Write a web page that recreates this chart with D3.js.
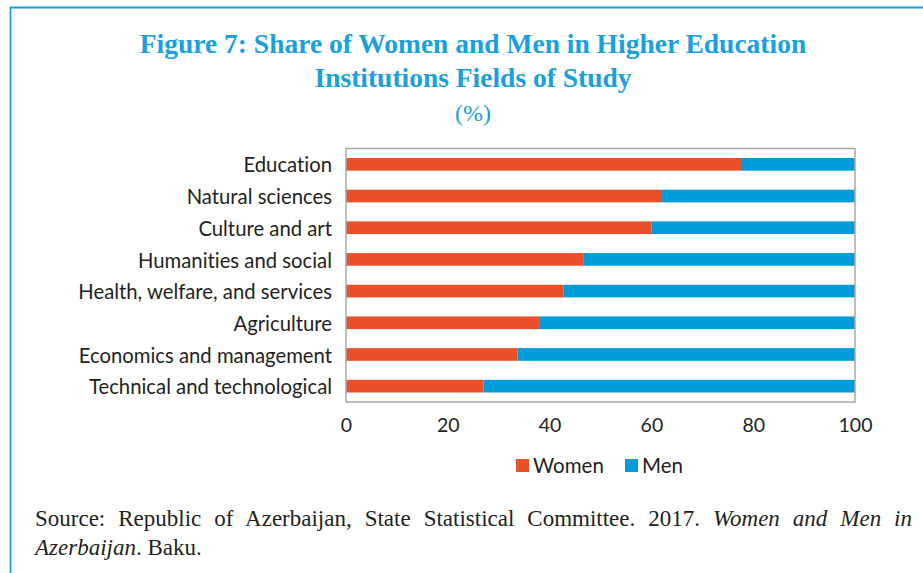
<!DOCTYPE html>
<html>
<head>
<meta charset="utf-8">
<script src="https://cdn.jsdelivr.net/npm/d3@7"></script>
<style>
  body { margin: 0; background: #fff; }
  svg { display: block; }
  text { font-variant-ligatures: none; font-feature-settings: "liga" 0, "clig" 0; }
</style>
</head>
<body>
<svg id="chart" width="923" height="573"></svg>
<script>
// datos del gráfico
var categories = [
  "Education",
  "Natural sciences",
  "Culture and art",
  "Humanities and social",
  "Health, welfare, and services",
  "Agriculture",
  "Economics and management",
  "Technical and technological"
];
var women = [77.6, 62.1, 60.0, 46.6, 42.7, 38.1, 33.7, 27.0];
var men = women.map(function(w) { return 100 - w; });
var xTicks = [0, 20, 40, 60, 80, 100];
var seriesNames = ["Women", "Men"];
var seriesColors = ["#e9502b", "#009bd9"];

var svg = d3.select("#chart");
var blue = "#1aa0dd";
var sansFont = "Lato, 'Open Sans', sans-serif";
var serifFont = "'Liberation Serif', 'DejaVu Serif', serif";

// marco
svg.append("path")
  .attr("d", "M10.5,573 V7.5 H923")
  .attr("fill", "none")
  .attr("stroke", blue)
  .attr("stroke-width", 1.8);

// título
var title = svg.append("g")
  .attr("font-family", serifFont)
  .attr("fill", blue)
  .attr("text-anchor", "middle");
title.append("text").attr("x", 473).attr("y", 53)
  .attr("font-size", 27.5).attr("font-weight", "bold")
  .text("Figure 7: Share of Women and Men in Higher Education");
title.append("text").attr("x", 473).attr("y", 87)
  .attr("font-size", 27.5).attr("font-weight", "bold")
  .text("Institutions Fields of Study");
title.append("text").attr("x", 473).attr("y", 121)
  .attr("font-size", 24)
  .text("(%)");

// escalas
var x = d3.scaleLinear().domain([0, 100]).range([346, 855]);
var y = d3.scaleBand().domain(categories).range([148.5, 402]).paddingInner(0.6).paddingOuter(0.3);

// barras apiladas
var rows = categories.map(function(c, i) { return { cat: c, vals: [women[i], men[i]] }; });
var stack = d3.stack().keys([0, 1]).value(function(d, k) { return d.vals[k]; });
var layers = stack(rows);

svg.selectAll(".layer")
  .data(layers)
  .enter().append("g")
  .attr("class", "layer")
  .attr("fill", function(d, i) { return seriesColors[i]; })
  .selectAll("rect")
  .data(function(d) { return d; })
  .enter().append("rect")
  .attr("x", function(d) { return x(d[0]); })
  .attr("y", function(d) { return y(d.data.cat); })
  .attr("width", function(d) { return x(d[1]) - x(d[0]); })
  .attr("height", y.bandwidth());

// caja del área de trazado
svg.append("rect")
  .attr("x", x(0)).attr("y", 148.5)
  .attr("width", x(100) - x(0)).attr("height", 402 - 148.5)
  .attr("fill", "none")
  .attr("stroke", "#a9a9a9")
  .attr("stroke-width", 1.5);

// etiquetas de categorías
svg.append("g")
  .selectAll("text")
  .data(categories)
  .enter().append("text")
  .attr("x", 332)
  .attr("y", function(d) { return y(d) + y.bandwidth() / 2 + 1; })
  .attr("dy", "0.35em")
  .attr("text-anchor", "end")
  .attr("font-family", sansFont)
  .attr("font-size", 20.3)
  .attr("fill", "#231f20")
  .text(function(d) { return d; });

// eje x
var xAxis = d3.axisBottom(x).tickValues(xTicks).tickSize(0).tickPadding(0);
var gx = svg.append("g").attr("transform", "translate(0,418)").call(xAxis);
gx.select(".domain").remove();
gx.selectAll("text")
  .attr("font-family", sansFont)
  .attr("font-size", 19.5)
  .attr("fill", "#231f20")
  .attr("dy", "0.71em");

// leyenda
var legendX = [516, 625];
var legend = svg.append("g").selectAll("g")
  .data(seriesNames)
  .enter().append("g")
  .attr("transform", function(d, i) { return "translate(" + legendX[i] + ",459)"; });
legend.append("rect")
  .attr("width", 13).attr("height", 13)
  .attr("fill", function(d, i) { return seriesColors[i]; });
legend.append("text")
  .attr("x", 17).attr("y", 13.5)
  .attr("font-family", sansFont)
  .attr("font-size", 20.5)
  .attr("fill", "#231f20")
  .text(function(d) { return d; });

// fuente
var src = svg.append("g")
  .attr("font-family", serifFont)
  .attr("font-size", 19)
  .attr("fill", "#231f20");
var line1 = src.append("text").attr("x", 35).attr("y", 526);
line1.append("tspan").text("Source: Republic of Azerbaijan, State Statistical Committee. 2017. ");
line1.append("tspan").attr("font-style", "italic").text("Women and Men in");
var line2 = src.append("text").attr("x", 35).attr("y", 555);
line2.append("tspan").attr("font-style", "italic").text("Azerbaijan");
line2.append("tspan").text(". Baku.");

// ajustar tamaño para que la primera línea quepa casi justa, luego justificar
var w1 = line1.node().getComputedTextLength();
var fs = Math.min(23, 19 * 850 / w1);
src.attr("font-size", fs);
w1 = line1.node().getComputedTextLength();
line1.attr("word-spacing", (912 - 35 - w1) / 11);
</script>
</body>
</html>
